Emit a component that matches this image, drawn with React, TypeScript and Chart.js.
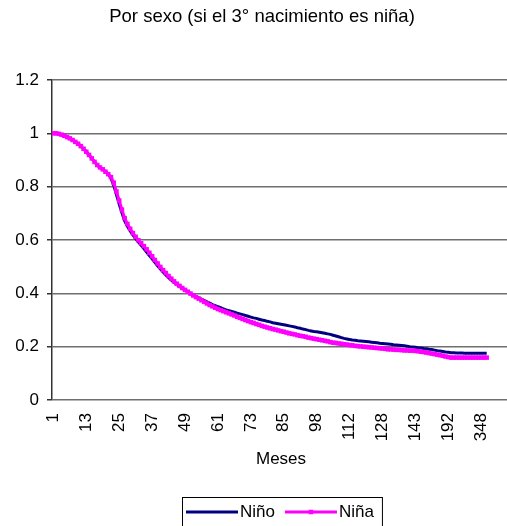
import { useEffect, useRef } from 'react';
import { Chart, registerables } from 'chart.js';

Chart.register(...registerables);

const chartTitle = 'Por sexo (si el 3° nacimiento es niña)';
const xAxisTitle = 'Meses';
const seriesNames = ['Niño', 'Niña'];

// months present in the data (one category each)
const months = [
  1, 2, 3, 4, 5, 6, 7, 8, 9, 10, 11, 12, 13, 14, 15, 16, 17, 18, 19, 20,
  21, 22, 23, 24, 25, 26, 27, 28, 29, 30, 31, 32, 33, 34, 35, 36, 37, 38, 39, 40,
  41, 42, 43, 44, 45, 46, 47, 48, 49, 50, 51, 52, 53, 54, 55, 56, 57, 58, 59, 60,
  61, 62, 63, 64, 65, 66, 67, 68, 69, 70, 71, 72, 73, 74, 75, 76, 77, 78, 79, 80,
  81, 82, 83, 84, 85,
  86, 87, 88, 89, 90, 91, 92, 93, 94, 95, 96, 98,
  99, 100, 101, 102, 103, 104, 105, 107, 108, 109, 110, 112,
  113, 114, 115, 117, 118, 119, 121, 122, 124, 125, 126, 128,
  129, 130, 131, 133, 134, 135, 136, 138, 139, 140, 141, 143,
  146, 149, 152, 156, 160, 163, 167, 170, 175, 180, 185, 192,
  197, 204, 210, 216, 222, 228, 240, 252, 264, 288, 312, 348,
  372, 384,
];

// month labels printed on the x axis
const xTickLabels = [1, 13, 25, 37, 49, 61, 73, 85, 98, 112, 128, 143, 192, 348];

const yMin = 0;
const yMax = 1.2;
const yStep = 0.2;

const ninoValues = [
  1.000, 1.000, 0.998, 0.995, 0.991, 0.986, 0.981, 0.975, 0.968, 0.961,
  0.952, 0.942, 0.931, 0.919, 0.906, 0.893, 0.881, 0.872, 0.865, 0.856,
  0.847, 0.832, 0.805, 0.770, 0.735, 0.702, 0.672, 0.651, 0.634, 0.619,
  0.605, 0.592, 0.580, 0.568, 0.555, 0.542, 0.529, 0.516, 0.503, 0.491,
  0.480, 0.469, 0.459, 0.450, 0.441, 0.433, 0.426, 0.419, 0.412, 0.406,
  0.400, 0.394, 0.388, 0.383, 0.378, 0.373, 0.368, 0.363, 0.358, 0.354,
  0.350, 0.346, 0.342, 0.338, 0.335, 0.332, 0.329, 0.326, 0.323, 0.320,
  0.317, 0.314, 0.311, 0.308, 0.306, 0.303, 0.300, 0.298, 0.295, 0.293,
  0.290, 0.288, 0.286, 0.284, 0.282, 0.280, 0.278, 0.276, 0.274, 0.271,
  0.269, 0.266, 0.264, 0.261, 0.259, 0.257, 0.256, 0.254, 0.252, 0.250,
  0.248, 0.246, 0.243, 0.240, 0.237, 0.234, 0.231, 0.229, 0.227, 0.225,
  0.224, 0.222, 0.221, 0.220, 0.219, 0.218, 0.217, 0.216, 0.215, 0.213,
  0.212, 0.211, 0.210, 0.209, 0.207, 0.206, 0.205, 0.204, 0.203, 0.202,
  0.200, 0.199, 0.198, 0.196, 0.195, 0.193, 0.192, 0.190, 0.189, 0.187,
  0.185, 0.184, 0.182, 0.180, 0.179, 0.177, 0.177, 0.176, 0.176, 0.176,
  0.175, 0.175, 0.175, 0.175, 0.175, 0.175, 0.175, 0.175, 0.175,
];

const ninaValues = [
  1.000, 1.000, 0.998, 0.995, 0.991, 0.986, 0.981, 0.975, 0.968, 0.961,
  0.952, 0.942, 0.931, 0.919, 0.906, 0.893, 0.881, 0.872, 0.865, 0.856,
  0.847, 0.836, 0.815, 0.782, 0.748, 0.714, 0.682, 0.660, 0.642, 0.626,
  0.612, 0.599, 0.588, 0.577, 0.565, 0.552, 0.539, 0.525, 0.512, 0.499,
  0.487, 0.476, 0.465, 0.455, 0.445, 0.436, 0.428, 0.420, 0.413, 0.406,
  0.399, 0.392, 0.386, 0.380, 0.374, 0.368, 0.362, 0.356, 0.351, 0.346,
  0.341, 0.337, 0.333, 0.329, 0.325, 0.321, 0.317, 0.312, 0.308, 0.304,
  0.300, 0.296, 0.292, 0.289, 0.285, 0.282, 0.278, 0.275, 0.272, 0.269,
  0.266, 0.264, 0.261, 0.258, 0.256, 0.253, 0.250, 0.248, 0.246, 0.243,
  0.241, 0.239, 0.237, 0.234, 0.232, 0.230, 0.228, 0.226, 0.224, 0.222,
  0.220, 0.217, 0.215, 0.214, 0.212, 0.211, 0.209, 0.208, 0.206, 0.205,
  0.203, 0.202, 0.201, 0.200, 0.199, 0.198, 0.197, 0.196, 0.195, 0.194,
  0.193, 0.192, 0.190, 0.190, 0.189, 0.188, 0.188, 0.187, 0.186, 0.186,
  0.185, 0.185, 0.184, 0.183, 0.181, 0.180, 0.178, 0.176, 0.174, 0.172,
  0.170, 0.168, 0.166, 0.163, 0.161, 0.159, 0.159, 0.159, 0.159, 0.159,
  0.159, 0.159, 0.159, 0.159, 0.159, 0.159, 0.159, 0.159, 0.159,
];

const FONT = '"Liberation Sans", Arial, Helvetica, sans-serif';

const boxLegend = {
  id: 'boxLegend',
  afterDraw(chart: any) {
    const ctx = chart.ctx as CanvasRenderingContext2D;
    const left = 182;
    const top = 497;
    const height = 33;
    const midY = 512;
    ctx.save();
    ctx.font = `17px ${FONT}`;
    ctx.textBaseline = 'middle';
    ctx.textAlign = 'left';
    let x = left + 4;
    const sets = [...chart.data.datasets].sort((a: any, b: any) => a.legendIndex - b.legendIndex);
    sets.forEach((ds: any, i: number) => {
      ctx.strokeStyle = ds.borderColor;
      ctx.lineWidth = ds.borderWidth;
      ctx.beginPath();
      ctx.moveTo(x, midY);
      ctx.lineTo(x + 52, midY);
      ctx.stroke();
      if (ds.pointRadius > 0) {
        const s = ds.pointRadius * Math.SQRT1_2;
        ctx.fillStyle = ds.pointBackgroundColor;
        ctx.fillRect(x + 26 - s, midY - s, 2 * s, 2 * s);
      }
      x += 54;
      ctx.fillStyle = '#000';
      ctx.fillText(ds.label, x, midY);
      x += ctx.measureText(ds.label).width;
      if (i < sets.length - 1) x += 10;
    });
    const right = x + 8;
    ctx.strokeStyle = '#000';
    ctx.lineWidth = 1;
    ctx.strokeRect(left + 0.5, top + 0.5, right - left, height);
    ctx.restore();
  },
};

export default function App() {
  const ref = useRef<HTMLCanvasElement | null>(null);

  useEffect(() => {
    if (!ref.current) return;
    const tickIdx = xTickLabels.map((m) => months.indexOf(m));
    const lastIdx = months.length - 1;
    const chart = new Chart(ref.current, {
      type: 'line',
      data: {
        datasets: [
          {
            label: seriesNames[0],
            legendIndex: 0,
            data: ninoValues.map((v, i) => ({ x: i, y: v })),
            borderColor: '#000080',
            backgroundColor: '#000080',
            borderWidth: 3,
            pointRadius: 0,
            tension: 0,
            order: 2,
          } as any,
          {
            label: seriesNames[1],
            legendIndex: 1,
            data: ninaValues.map((v, i) => ({ x: i, y: v })),
            borderColor: '#FF00FF',
            backgroundColor: '#FF00FF',
            pointBackgroundColor: '#FF00FF',
            pointBorderWidth: 0,
            pointStyle: 'rect',
            pointRadius: 3.2,
            borderWidth: 3,
            tension: 0,
            order: 1,
          } as any,
        ],
      },
      options: {
        animation: false,
        responsive: false,
        maintainAspectRatio: false,
        devicePixelRatio: 1,
        layout: { padding: { left: 10, right: 0, top: 0, bottom: 0 } },
        plugins: {
          legend: { display: false },
          tooltip: { enabled: false },
          title: {
            display: true,
            text: chartTitle,
            color: '#000',
            font: { family: FONT, size: 18.5, weight: 'normal' },
            padding: { top: 6, bottom: 51.8 },
          },
        },
        scales: {
          x: {
            type: 'linear',
            min: -0.5,
            max: lastIdx + 8.5,
            afterBuildTicks: (s: any) => {
              s.ticks = tickIdx.map((v) => ({ value: v }));
            },
            afterFit: (s: any) => {
              s.height = 126;
              s.paddingLeft = 0;
              s.paddingRight = 0;
            },
            ticks: {
              autoSkip: false,
              minRotation: 90,
              maxRotation: 90,
              padding: 13,
              color: '#000',
              font: { family: FONT, size: 17 },
              callback: (v: any) => (months[v] !== undefined ? String(months[v]) : ''),
            },
            grid: { display: false, drawTicks: false },
            border: { display: false },
            title: {
              display: true,
              text: xAxisTitle,
              color: '#000',
              font: { family: FONT, size: 17 },
              padding: { top: 0, bottom: 56 },
            },
          },
          y: {
            type: 'linear',
            min: yMin,
            max: yMax,
            afterFit: (s: any) => {
              s.width = 42;
            },
            ticks: {
              stepSize: yStep,
              padding: 8,
              color: '#000',
              font: { family: FONT, size: 17 },
              callback: (v: any) => String(Math.round(Number(v) * 10) / 10),
            },
            grid: { color: '#6f6f6f', lineWidth: 1.5, tickLength: 5, tickColor: '#333' },
            border: { display: true, color: '#333', width: 1.5 },
          },
        },
      } as any,
      plugins: [boxLegend],
    });
    return () => chart.destroy();
  }, []);

  return (
    <div
      style={{
        position: 'absolute',
        left: 0,
        top: 0,
        width: 507,
        height: 526,
        overflow: 'hidden',
        background: '#fff',
      }}
    >
      <canvas ref={ref} width={514} height={526} style={{ display: 'block' }} />
    </div>
  );
}
